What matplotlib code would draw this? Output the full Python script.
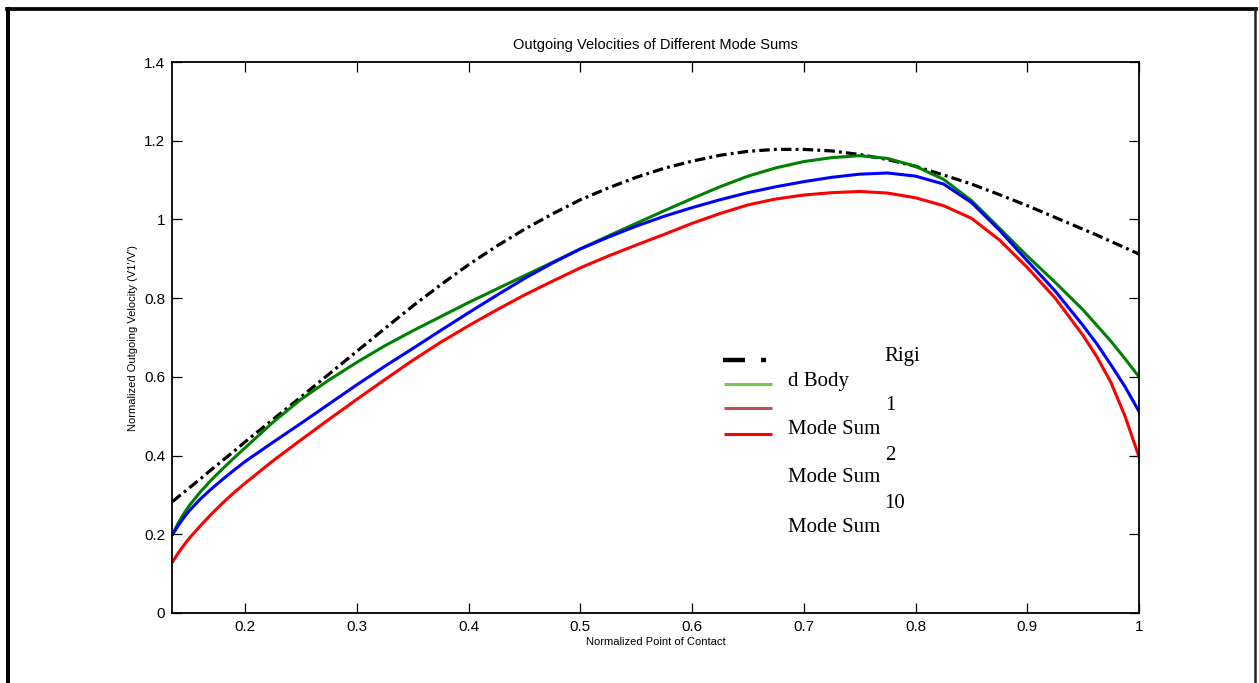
import numpy as np
import matplotlib
matplotlib.use("Agg")
import matplotlib.pyplot as plt
from matplotlib.lines import Line2D

plt.rcParams.update({
    "font.family": "Liberation Sans",
    "axes.linewidth": 1.3,
})

# ── Data ─────────────────────────────────────────────────────────────────────
x_pts = [0.135, 0.14, 0.145, 0.15, 0.16, 0.17, 0.18, 0.19, 0.2, 0.225, 0.25,
         0.275, 0.3, 0.325, 0.35, 0.375, 0.4, 0.425, 0.45, 0.475, 0.5, 0.525,
         0.55, 0.575, 0.6, 0.625, 0.65, 0.675, 0.7, 0.725, 0.75, 0.775, 0.8,
         0.825, 0.85, 0.875, 0.9, 0.925, 0.95, 0.9625, 0.975, 0.9875, 1.0]
rigid = [0.283, 0.295, 0.306, 0.318, 0.341, 0.365, 0.388, 0.411, 0.435, 0.492,
         0.549, 0.607, 0.665, 0.723, 0.78, 0.834, 0.885, 0.932, 0.975, 1.014,
         1.05, 1.08, 1.107, 1.13, 1.148, 1.163, 1.173, 1.178, 1.178, 1.174,
         1.165, 1.152, 1.135, 1.113, 1.09, 1.063, 1.035, 1.005, 0.975, 0.96,
         0.944, 0.928, 0.912]
mode1 = [0.20, 0.228, 0.252, 0.273, 0.308, 0.339, 0.367, 0.394, 0.42, 0.485,
         0.543, 0.592, 0.637, 0.679, 0.717, 0.753, 0.789, 0.823, 0.857, 0.891,
         0.925, 0.958, 0.99, 1.022, 1.053, 1.083, 1.11, 1.131, 1.147, 1.157,
         1.162, 1.155, 1.135, 1.102, 1.048, 0.978, 0.907, 0.84, 0.77, 0.73,
         0.69, 0.646, 0.60]
mode2 = [0.20, 0.222, 0.242, 0.26, 0.29, 0.316, 0.34, 0.363, 0.385, 0.434,
         0.482, 0.531, 0.58, 0.627, 0.672, 0.718, 0.763, 0.807, 0.85, 0.889,
         0.925, 0.955, 0.983, 1.008, 1.03, 1.05, 1.068, 1.083, 1.096, 1.107,
         1.115, 1.118, 1.11, 1.09, 1.043, 0.973, 0.895, 0.818, 0.73, 0.683,
         0.63, 0.575, 0.512]
mode10 = [0.13, 0.152, 0.172, 0.19, 0.222, 0.252, 0.28, 0.306, 0.33, 0.387,
          0.44, 0.492, 0.543, 0.593, 0.642, 0.688, 0.73, 0.77, 0.808, 0.843,
          0.877, 0.907, 0.935, 0.962, 0.99, 1.015, 1.037, 1.052, 1.062, 1.068,
          1.071, 1.067, 1.055, 1.035, 1.003, 0.948, 0.878, 0.80, 0.705, 0.65,
          0.585, 0.50, 0.397]

xticks = [0.2, 0.3, 0.4, 0.5, 0.6, 0.7, 0.8, 0.9, 1.0]
xtick_labels = ["0.2", "0.3", "0.4", "0.5", "0.6", "0.7", "0.8", "0.9", "1"]
yticks = [0, 0.2, 0.4, 0.6, 0.8, 1.0, 1.2, 1.4]
ytick_labels = ["0", "0.2", "0.4", "0.6", "0.8", "1", "1.2", "1.4"]

W, H = 1259, 683
fig = plt.figure(figsize=(W / 100, H / 100), dpi=100)

def fx(px):
    return px / W

def fy(py):
    return 1 - py / H

# outer frame (page border)
fig.add_artist(Line2D([fx(8), fx(8)], [fy(9), -0.05], color="black", lw=2.9))
fig.add_artist(Line2D([fx(6.5), fx(1256)], [fy(9), fy(9)], color="black", lw=2.7))
fig.add_artist(Line2D([fx(1255), fx(1255)], [fy(9), -0.05], color="#222222", lw=1.8))

ax = fig.add_axes([fx(172), fy(613), fx(1139) - fx(172), fy(62) - fy(613)])

ax.plot(x_pts, rigid, color="black", lw=2.3, ls=(0, (3.3, 1.3, 0.9, 1.3)),
        dash_capstyle="butt")
ax.plot(x_pts, mode1, color="#008000", lw=2.2)
ax.plot(x_pts, mode2, color="#0000ff", lw=2.2)
ax.plot(x_pts, mode10, color="#ff0000", lw=2.2)

ax.set_xlim(0.1345, 1.0)
ax.set_ylim(0, 1.4)
ax.set_xticks(xticks)
ax.set_xticklabels(xtick_labels)
ax.set_yticks(yticks)
ax.set_yticklabels(ytick_labels)
ax.tick_params(direction="in", length=7, width=0.9, top=True, right=True,
               labelsize=11, pad=5)
ax.set_title("Outgoing Velocities of Different Mode Sums", fontsize=10.5, pad=9)
ax.set_xlabel("Normalized Point of Contact", fontsize=8, labelpad=2)
ax.set_ylabel("Normalized Outgoing Velocity (V1'/V')", fontsize=8, labelpad=4)

# broken legend (as exported)
key_y = [360, 384, 408, 434]
fig.add_artist(Line2D([fx(723), fx(745)], [fy(key_y[0])] * 2, color="black",
                      lw=3.2, solid_capstyle="butt"))
fig.add_artist(Line2D([fx(761), fx(766)], [fy(key_y[0])] * 2, color="black",
                      lw=3.2, solid_capstyle="butt"))
for yy, c in zip(key_y[1:], ["#77c84a", "#c0504d", "#ff0000"]):
    fig.add_artist(Line2D([fx(724), fx(772)], [fy(yy)] * 2, color=c, lw=2.2,
                          solid_capstyle="butt"))

serif = dict(family="Liberation Serif", fontsize=15, va="center", ha="left")
legend_text = [
    (884, 356, "Rigi"),
    (788, 381, "d Body"),
    (885, 406, "1"),
    (788, 430, "Mode Sum"),
    (885, 455, "2"),
    (788, 478, "Mode Sum"),
    (884, 503, "10"),
    (788, 527, "Mode Sum"),
]
for px, py, s in legend_text:
    fig.text(fx(px), fy(py), s, **serif)

fig.savefig("out.png", dpi=100)
